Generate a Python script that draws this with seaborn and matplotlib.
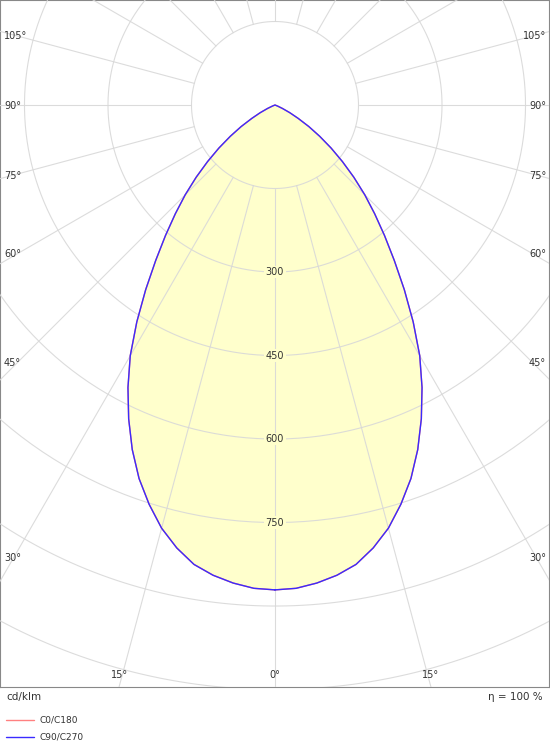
import numpy as np
import pandas as pd
import matplotlib.pyplot as plt
import seaborn as sns

# luminous intensity (cd/klm) vs gamma angle, symmetric
gamma = [0, 2.5, 5, 7.5, 10, 12.5, 15, 17.5, 20, 22.5, 25, 27.5, 30, 32.5, 35,
         37.5, 40, 42.5, 45, 47.5, 50, 52.5, 55, 57.5, 60, 62.5, 65, 67.5, 70]
c90_c270 = [871, 869, 862, 852, 838, 815, 787, 752, 714, 670, 622, 572, 520, 462, 405,
            352, 306, 265, 228, 192, 158, 127, 98, 72, 48, 30, 15, 5, 0]
c0_c180 = c90_c270
ring_values = [150, 300, 450, 600, 750, 900, 1050, 1200, 1350, 1500]
ring_labels = [300, 450, 600, 750]
angle_labels = [0, 15, 30, 45, 60, 75, 90, 105]

sns.set_style("white")
plt.rcParams['font.family'] = ['DejaVu Sans']

fig = plt.figure(figsize=(5.5, 7.5), dpi=100)
ax = fig.add_axes([0, 63 / 750, 549 / 550, 687 / 750])
scale = 0.5567  # px per cd
xmax = 275 / scale
ytop = 105 / scale
ybot = -(687 - 105) / scale
ax.set_xlim(-xmax, 549 / scale - xmax)
ax.set_ylim(ybot, ytop)

grid_c = "#d8d8d8"
t = np.linspace(0, 2 * np.pi, 400)
for r in ring_values:
    ax.plot(r * np.sin(t), r * np.cos(t), color=grid_c, lw=0.8, zorder=3, alpha=0.9)
for a in range(0, 360, 15):
    ar = np.radians(a)
    ax.plot([150 * np.sin(ar), 2000 * np.sin(ar)], [-150 * np.cos(ar), -2000 * np.cos(ar)],
            color=grid_c, lw=0.8, zorder=3, alpha=0.9)

# curve (full polar, mirrored)
g = np.array(gamma + [-v for v in gamma[::-1]])
rr = np.array(c90_c270 + c90_c270[::-1])
gr = np.radians(g)
df = pd.DataFrame({"x": rr * np.sin(gr), "y": -rr * np.cos(gr), "i": range(len(g))})
ax.fill(df["x"], df["y"], color="#ffffcc", zorder=2)
r2 = np.array(c0_c180 + c0_c180[::-1])
ax.plot(r2 * np.sin(gr), -r2 * np.cos(gr), color="#ff8080", lw=1, zorder=4)
sns.lineplot(data=df, x="x", y="y", sort=False, estimator=None, color="#3a2bff", lw=1, ax=ax, zorder=5)

for v in ring_labels:
    ax.text(0, -v, str(v), ha="center", va="center", fontsize=7, color="#333333",
            bbox=dict(facecolor="#ffffcc", edgecolor="none", pad=1), zorder=6)

# angle labels near where rays meet the frame
for a in angle_labels:
    ar = np.radians(a)
    if a <= 15:
        y = ybot + 12 / scale
        x = (-ybot) * np.tan(ar)
        for s in ([1, -1] if a else [1]):
            ax.text(s * x, y, f"{a}°", ha="center", va="center", fontsize=7, color="#333333")
    else:
        c = np.cos(ar)
        off = 1 - 30 * np.sign(c) * abs(c) ** 1.5
        y = -xmax / np.tan(ar) - off / scale
        for s, ha in ((1, "right"), (-1, "left")):
            ax.text(s * (xmax - 4 / scale), y, f"{a}°", ha=ha, va="center", fontsize=7, color="#333333")

ax.set_xticks([])
ax.set_yticks([])
ax.set_xlabel("")
ax.set_ylabel("")
for sp in ax.spines.values():
    sp.set_color("#888888")
    sp.set_linewidth(0.8)

fig.text(6 / 550, 1 - 697 / 750, "cd/klm", fontsize=7.5, va="center", color="#333333")
fig.text(543 / 550, 1 - 697 / 750, "η = 100 %", fontsize=7.5, va="center", ha="right", color="#333333")
for yy, col, lab in ((720, "#ff8080", "C0/C180"), (737, "#3a2bff", "C90/C270")):
    fig.add_artist(plt.Line2D([6 / 550, 34 / 550], [1 - yy / 750] * 2, color=col, lw=1))
    fig.text(39 / 550, 1 - yy / 750, lab, fontsize=6.5, va="center", color="#333333")

fig.savefig("out.png", dpi=100)
